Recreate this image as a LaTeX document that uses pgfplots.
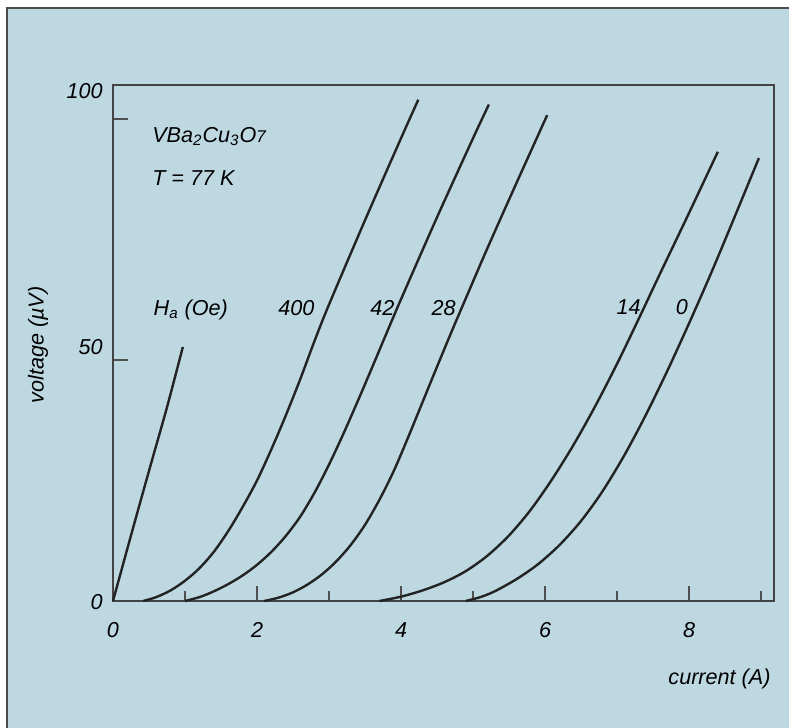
\documentclass[border=0pt]{standalone}
\usepackage{fontspec}
\setmainfont{Liberation Sans}
\usepackage{pgfplots}
\pgfplotsset{compat=1.18}
\definecolor{bgblue}{RGB}{190,216,226}
\definecolor{ink}{RGB}{35,35,35}
\newcommand\ff{\fontsize{10.8bp}{13bp}\selectfont\itshape}
\tikzset{curve/.style={draw=ink, line width=1.2bp, smooth, mark=none}}

\begin{document}
\begin{tikzpicture}
\useasboundingbox (0,0) rectangle (394.5bp,364bp);
\fill[white] (0,0) rectangle (394.5bp,364bp);
\fill[bgblue] (3.5bp,0) rectangle (394.5bp,360bp);
\draw[black!70, line width=0.6bp] (3.5bp,0) -- (3.5bp,360bp) -- (394.5bp,360bp);
\begin{axis}[
  at={(56.5bp,63.5bp)}, anchor=south west,
  scale only axis, width=330.5bp, height=258bp,
  xmin=0, xmax=9.18, ymin=0, ymax=107.05,
  clip=false,
  axis line style={line width=1.4bp, draw=ink!85},
  xtick={0,2,4,6,8}, xticklabels={0,2,4,6,8},
  minor xtick={1,3,5,7,9},
  ytick={50,100}, yticklabels={},
  tick pos=left, tick align=inside,
  major tick length=7.5bp, minor tick length=5bp,
  tick style={line width=1.1bp, draw=ink!80},
  xticklabel style={font=\ff, anchor=center, yshift=-14.5bp},
  xlabel={current (A)}, ylabel={voltage (µV)},
  label style={font=\ff},
  xlabel style={at={(axis description cs:0.9175,-0.151)}, anchor=center},
  ylabel style={at={(axis description cs:-0.1135,0.496)}, anchor=center},
]
% H_a line
\addplot[curve] coordinates {
  (0,0) (0.25,13.6) (0.5,27) (0.75,40.2) (0.97,52.7)
};
% 400 Oe
\addplot[curve] coordinates {
  (0.42,0) (0.6,0.8) (0.8,2.2) (1.0,4.2) (1.2,6.8) (1.4,10.2) (1.6,14.5)
  (1.8,19.5) (2.0,25) (2.2,31.5) (2.4,38.5) (2.6,46) (2.8,54) (3.0,61.5)
  (3.5,79) (4.0,96) (4.24,104)
};
% 42 Oe
\addplot[curve] coordinates {
  (1.0,0) (1.2,0.8) (1.4,2) (1.6,3.5) (1.8,5.3) (2.0,7.5) (2.2,10.2)
  (2.4,13.5) (2.6,17.5) (2.8,22.5) (3.0,28.3) (3.2,34.7) (3.4,41.5)
  (3.6,48.5) (3.8,55.6) (4.0,62.6) (4.5,79.6) (5.0,96) (5.22,103)
};
% 28 Oe
\addplot[curve] coordinates {
  (2.1,0) (2.3,0.7) (2.5,1.8) (2.7,3.4) (2.9,5.5) (3.1,8.2) (3.3,11.6)
  (3.5,15.8) (3.7,21) (3.9,27) (4.1,34) (4.3,41.3) (4.5,48.6) (4.7,55.8)
  (4.9,62.8) (5.2,73.2) (5.6,86.6) (6.03,100.8)
};
% 14 Oe
\addplot[curve] coordinates {
  (3.7,0) (4.0,0.9) (4.3,2.2) (4.6,3.9) (4.9,6.2) (5.2,9.4) (5.5,13.6)
  (5.8,18.9) (6.1,25.3) (6.4,32.5) (6.7,40.5) (7.0,49.2) (7.3,58.5)
  (7.6,68) (8.0,80.5) (8.4,93.2)
};
% 0 Oe
\addplot[curve] coordinates {
  (4.9,0) (5.1,0.8) (5.3,2.0) (5.6,4.5) (5.9,7.6) (6.2,11.6) (6.5,16.6)
  (6.8,22.8) (7.1,30.2) (7.4,38.6) (7.7,47.8) (8.0,57.6) (8.3,67.8)
  (8.6,78.5) (8.97,91.9)
};
% y tick labels
\node[font=\ff, anchor=east, inner sep=0] at (axis cs:-0.139,105.8) {100};
\node[font=\ff, anchor=east, inner sep=0] at (axis cs:-0.139,52.7) {50};
\node[font=\ff, anchor=east, inner sep=0] at (axis cs:-0.139,-0.2) {0};
% annotations
\node[font=\ff, anchor=base west, inner sep=0] at (axis cs:0.54,95.2) {VBa\textsubscript{2}Cu\textsubscript{3}O{\fontsize{8.5bp}{9bp}\selectfont 7}};
\node[font=\ff, anchor=base west, inner sep=0] at (axis cs:0.54,86.3) {T = 77 K};
\node[font=\ff, anchor=base west, inner sep=0] at (axis cs:0.56,59.3) {H\textsubscript{a} (Oe)};
\node[font=\ff, anchor=base west, inner sep=0] at (axis cs:2.29,59.3) {400};
\node[font=\ff, anchor=base west, inner sep=0] at (axis cs:3.57,59.3) {42};
\node[font=\ff, anchor=base west, inner sep=0] at (axis cs:4.42,59.3) {28};
\node[font=\ff, anchor=base west, inner sep=0] at (axis cs:6.99,59.4) {14};
\node[font=\ff, anchor=base west, inner sep=0] at (axis cs:7.81,59.4) {0};
\end{axis}
\end{tikzpicture}
\end{document}
